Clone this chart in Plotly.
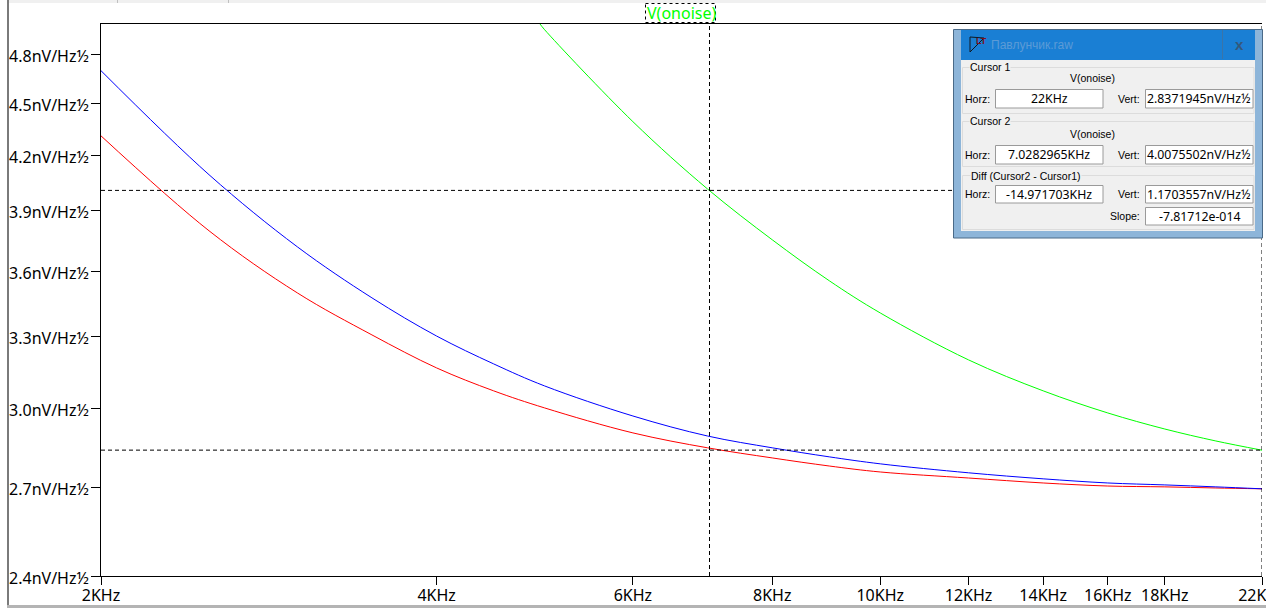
import plotly.graph_objects as go
import math

freq_blue_red = [2, 2.5, 3, 3.5, 4, 4.5, 5, 6, 7, 8, 9, 10, 12, 14, 16, 18, 20, 22]
blue_nv = [4.699, 4.092, 3.718, 3.474, 3.302, 3.182, 3.090, 2.969, 2.891, 2.846, 2.812, 2.786, 2.753, 2.731, 2.716, 2.709, 2.702, 2.695]
red_nv = [4.309, 3.798, 3.497, 3.307, 3.165, 3.070, 3.001, 2.903, 2.846, 2.808, 2.778, 2.756, 2.734, 2.716, 2.705, 2.702, 2.698, 2.695]
freq_green = [4.95, 5, 6, 7, 8, 9, 10, 12, 14, 16, 18, 20, 22]
green_nv = [5.002, 4.962, 4.391, 4.015, 3.753, 3.554, 3.405, 3.199, 3.070, 2.981, 2.918, 2.872, 2.837]

x_ticks = [2, 4, 6, 8, 10, 12, 14, 16, 18, 22]
x_labels = ["2KHz", "4KHz", "6KHz", "8KHz", "10KHz", "12KHz", "14KHz", "16KHz", "18KHz", "22KHz"]
y_ticks = [2.4, 2.7, 3.0, 3.3, 3.6, 3.9, 4.2, 4.5, 4.8]
y_labels = ["2.4nV/Hz½", "2.7nV/Hz½", "3.0nV/Hz½", "3.3nV/Hz½", "3.6nV/Hz½", "3.9nV/Hz½", "4.2nV/Hz½", "4.5nV/Hz½", "4.8nV/Hz½"]

cursor1_x, cursor1_y = 22, 2.8371945
cursor2_x, cursor2_y = 7.0282965, 4.0075502
x_min, x_max, y_min, y_max = 2, 22, 2.4, 5.0

L, R, T, B = 101, 1262, 24, 576
W, H = 1266, 608
TICK_FONT = "Noto Sans"
DLG_FONT = "Liberation Sans"


def px(x):
    return (x - L) / (R - L)


def py(y):
    return (B - y) / (B - T)


fig = go.Figure()
for xs, ys, col in [(freq_blue_red, red_nv, "#ff0000"), (freq_blue_red, blue_nv, "#0000ff"), (freq_green, green_nv, "#00ff00")]:
    fig.add_trace(go.Scatter(x=xs, y=ys, mode="lines", line=dict(color=col, width=1, shape="spline", smoothing=1.0), hoverinfo="skip"))

dash = dict(color="#000000", width=1, dash="4px,3px")
fig.add_trace(go.Scatter(x=[cursor2_x, cursor2_x], y=[y_min, y_max], mode="lines", line=dash, hoverinfo="skip"))
fig.add_trace(go.Scatter(x=[cursor1_x, cursor1_x], y=[y_min, y_max], mode="lines", line=dash, hoverinfo="skip", cliponaxis=False))
fig.add_trace(go.Scatter(x=[x_min, x_max], y=[cursor2_y, cursor2_y], mode="lines", line=dash, hoverinfo="skip"))
fig.add_trace(go.Scatter(x=[x_min, x_max], y=[cursor1_y, cursor1_y], mode="lines", line=dash, hoverinfo="skip"))

shapes = []


def rect(x0, y0, x1, y1, fill=None, line=None, lw=1, dashed=None):
    shapes.append(dict(type="rect", xref="paper", yref="paper", x0=px(x0), x1=px(x1), y0=py(y0), y1=py(y1),
                       fillcolor=fill if fill else "rgba(0,0,0,0)",
                       line=dict(color=line if line else "rgba(0,0,0,0)", width=lw if line else 0, dash=dashed or "solid"),
                       layer="above"))


def seg(x0, y0, x1, y1, col, lw=1):
    shapes.append(dict(type="line", xref="paper", yref="paper", x0=px(x0), x1=px(x1), y0=py(y0), y1=py(y1),
                       line=dict(color=col, width=lw), layer="above"))


annotations = []


def text(x, y, s, col="#000000", size=10.5, anchor="left", font=DLG_FONT, bg=None, bold=False):
    annotations.append(dict(xref="paper", yref="paper", x=px(x), y=py(y), text=f"<b>{s}</b>" if bold else s, showarrow=False,
                            xanchor=anchor, yanchor="middle", font=dict(family=font, size=size, color=col),
                            borderpad=0, bgcolor=bg if bg else "rgba(0,0,0,0)"))


# window chrome around the plot
rect(9, 0, 1266, 3, fill="#f0f0f0")
seg(117.5, 0, 117.5, 3, "#c0c0c0")
seg(228.5, 0, 228.5, 3, "#c0c0c0")
rect(7, 0, 9, 606, fill="#7a7a7a")
rect(7, 605, 1266, 608, fill="#b4b4b4")

# trace label
rect(645.5, 3.5, 715.5, 22.5, line="#000000", dashed="3px,3px")
text(681, 12.5, "V(onoise)", col="#00ff00", size=16, anchor="center", font=TICK_FONT)

# cursor dialog
PANEL = "#f0f0f0"
rect(953.5, 29.5, 1262.5, 238, fill="#8db5d9", line="#4a6a88")
rect(961, 30, 1255, 60, fill="#1a7fd4")
seg(1222.5, 30, 1222.5, 59, "#3a74a8")
rect(961, 60, 1255, 231, fill=PANEL)
for y0, y1 in [(67, 113), (121, 166), (175, 229)]:
    rect(962.5, y0 + .5, 1254, y1 + .5, line="#dcdcdc")
shapes.append(dict(type="path", xref="paper", yref="paper", layer="above",
                   path=f"M {px(970)} {py(37)} L {px(970)} {py(52)} L {px(984)} {py(38)} L {px(970)} {py(37)}",
                   line=dict(color="#101820", width=1), fillcolor="rgba(0,0,0,0)"))
text(975, 41, "LT", col="#7a1020", size=9, bold=True)
text(990, 45, "Павлунчик.raw", col="#5c9bd6", size=12)
text(1239, 44, "x", col="#35587a", size=15, anchor="center", bold=True)

text(969, 67, "Cursor 1", bg=PANEL)
text(969, 121, "Cursor 2", bg=PANEL)
text(970, 176, "Diff (Cursor2 - Cursor1)", bg=PANEL)
text(1092, 78, "V(onoise)", anchor="center")
text(1092, 134, "V(onoise)", anchor="center")

for yc in (99, 155, 194):
    text(991, yc, "Horz:", anchor="right")
    text(1141, yc, "Vert:", anchor="right")
text(1141, 216, "Slope:", anchor="right")

for (y0, y1, h_txt, v_txt) in [(89.5, 108, "22KHz", "2.8371945nV/Hz½"),
                               (145.5, 164, "7.0282965KHz", "4.0075502nV/Hz½"),
                               (185.5, 203, "-14.971703KHz", "1.1703557nV/Hz½")]:
    rect(995.5, y0, 1103, y1, fill="#ffffff", line="#9a9a9a")
    rect(1145.5, y0, 1253, y1, fill="#ffffff", line="#9a9a9a")
    text(1049, (y0 + y1) / 2, h_txt, anchor="center", size=12.3, font=TICK_FONT)
    text(1199, (y0 + y1) / 2, v_txt, anchor="center", size=12.3, font=TICK_FONT)
rect(1145.5, 207.5, 1253, 225, fill="#ffffff", line="#9a9a9a")
text(1199, 216, "-7.81712e-014", anchor="center", size=12.3, font=TICK_FONT)

fig.update_layout(
    width=W, height=H, autosize=False, showlegend=False,
    margin=dict(l=L, r=W - R, t=T, b=H - B, pad=0),
    paper_bgcolor="#ffffff", plot_bgcolor="#ffffff",
    shapes=shapes, annotations=annotations,
    xaxis=dict(type="log", range=[math.log10(x_min), math.log10(x_max)], tickvals=x_ticks, ticktext=x_labels,
               automargin=False, ticklabelstandoff=-3,
               ticks="outside", ticklen=8, tickwidth=1, tickcolor="#000000", showgrid=False, zeroline=False,
               showline=True, linecolor="#000000", linewidth=1, mirror=True, ticklabeloverflow="allow",
               tickfont=dict(family=TICK_FONT, size=16, color="#000000")),
    yaxis=dict(type="log", range=[math.log10(y_min), math.log10(y_max)], tickvals=y_ticks, ticktext=y_labels,
               automargin=False, ticklabelstandoff=-1, ticklabelshift=2,
               ticks="outside", ticklen=9, tickwidth=1, tickcolor="#000000", showgrid=False, zeroline=False,
               showline=True, linecolor="#000000", linewidth=1, ticklabeloverflow="allow",
               tickfont=dict(family=TICK_FONT, size=16, color="#000000")),
)

fig.write_html("out.html", config=dict(displayModeBar=False),
               post_script="document.body.style.margin='0';document.documentElement.style.overflow='hidden';")
